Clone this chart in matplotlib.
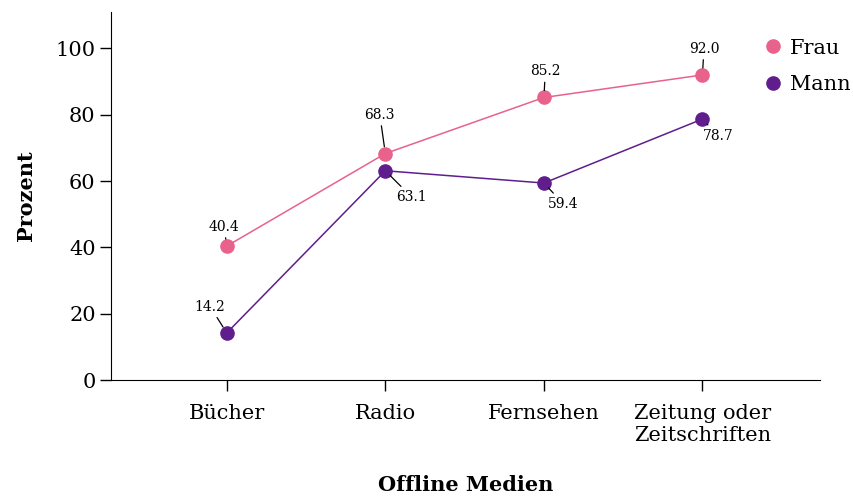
import matplotlib.pyplot as plt

plt.rcParams['font.family'] = ['DejaVu Serif']

categories = ['Bücher', 'Radio', 'Fernsehen', 'Zeitung oder\nZeitschriften']
frau = [40.4, 68.3, 85.2, 92.0]
mann = [14.2, 63.1, 59.4, 78.7]
yticks = [0, 20, 40, 60, 80, 100]

# label offsets in points (text centre relative to point)
frauOffsets = [(-2, 14), (-4, 28), (1, 19), (1, 19)]
mannOffsets = [(-12, 19), (19, -19), (14, -15), (11, -12)]

colorFrau = '#e8628c'
colorMann = '#5f1e8c'

fig = plt.figure(figsize=[8.54, 4.97], dpi=100)
ax = fig.add_axes([0.130, 0.2354, 0.830, 0.7406])

x = list(range(len(categories)))
ax.plot(x, frau, color=colorFrau, lw=1.1, marker='o', ms=9.5, label='Frau', zorder=3)
ax.plot(x, mann, color=colorMann, lw=1.1, marker='o', ms=9.5, label='Mann', zorder=3)

for values, offsets in [(frau, frauOffsets), (mann, mannOffsets)]:
    for i, v in enumerate(values):
        ax.annotate('%.1f' % v, xy=(i, v), xytext=offsets[i], textcoords='offset points',
                    ha='center', va='center', fontsize=10,
                    arrowprops=dict(arrowstyle='-', color='black', lw=0.9, shrinkA=1, shrinkB=5))

ax.set_xlim(-0.73, 3.74)
ax.set_ylim(0, 111)
ax.set_xticks(x)
ax.set_xticklabels(categories, fontsize=15, linespacing=1.25)
ax.set_yticks(yticks)
ax.set_yticklabels([str(t) for t in yticks], fontsize=15)
ax.tick_params(axis='both', length=8, width=1, pad=3)
ax.tick_params(axis='x', pad=9)
ax.spines['top'].set_visible(False)
ax.spines['right'].set_visible(False)
ax.set_xlabel('Offline Medien', fontsize=15, fontweight='bold', labelpad=21)
ax.set_ylabel('Prozent', fontsize=15, fontweight='bold', labelpad=14)

fig.legend(loc='upper left', bbox_to_anchor=(0.876, 0.96), frameon=False, fontsize=15,
           handlelength=0.6, handletextpad=0.5, labelspacing=0.85, markerscale=1.0)
for h in fig.legends[0].get_lines():
    h.set_linestyle('none')

fig.savefig('out.png', dpi=100)
